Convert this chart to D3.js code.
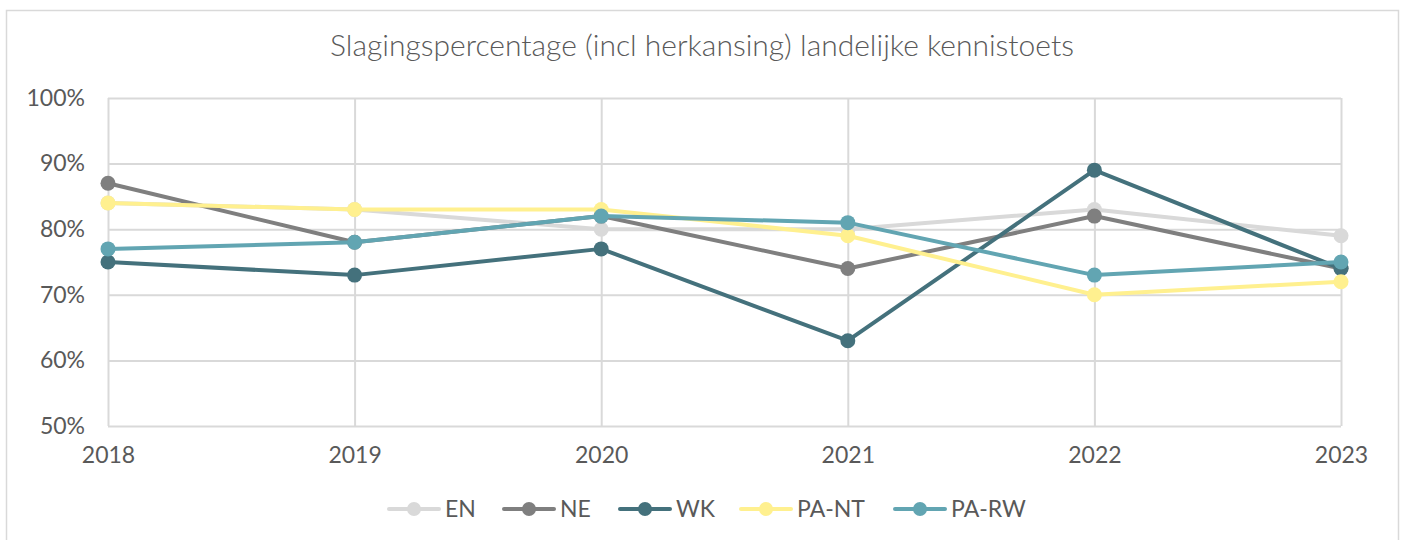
<!DOCTYPE html>
<html>
<head>
<meta charset="utf-8">
<script src="https://cdn.jsdelivr.net/npm/d3@7"></script>
<style>
  body { margin: 0; background: #fff; }
  text { font-family: Lato, "Open Sans", sans-serif; fill: #595959; }
</style>
</head>
<body>
<div id="chart-area"></div>
<script>
// data
var years = ["2018", "2019", "2020", "2021", "2022", "2023"];
var seriesNames = ["EN", "NE", "WK", "PA-NT", "PA-RW"];
var EN    = [84, 83, 80, 80, 83, 79];
var NE    = [87, 78, 82, 74, 82, 74];
var WK    = [75, 73, 77, 63, 89, 74];
var PA_NT = [84, 83, 83, 79, 70, 72];
var PA_RW = [77, 78, 82, 81, 73, 75];
var yTicks = [50, 60, 70, 80, 90, 100];

var colors = ["#d9d9d9", "#7f7f7f", "#44717c", "#fff08f", "#62a5b2"];
var values = [EN, NE, WK, PA_NT, PA_RW];

var width = 1402;
var height = 540;
var plot = {left: 108, right: 1341, top: 98, bottom: 426};

var svg = d3.select("#chart-area")
    .append("svg")
    .attr("width", width)
    .attr("height", height);

// outer border of chart
svg.append("rect")
    .attr("x", 6.5)
    .attr("y", 10.5)
    .attr("width", 1392)
    .attr("height", 540)
    .attr("fill", "none")
    .attr("stroke", "#d9d9d9")
    .attr("stroke-width", 1.5);

svg.append("text")
    .attr("x", 702)
    .attr("y", 56)
    .attr("text-anchor", "middle")
    .attr("font-size", "30px")
    .attr("font-weight", 300)
    .text("Slagingspercentage (incl herkansing) landelijke kennistoets");

var x = d3.scalePoint()
    .domain(years)
    .range([plot.left, plot.right]);

var y = d3.scaleLinear()
    .domain([50, 100])
    .range([plot.bottom, plot.top]);

// horizontal gridlines
svg.append("g")
    .attr("transform", "translate(" + plot.left + ",0)")
    .call(d3.axisLeft(y).tickValues(yTicks).tickSize(-(plot.right - plot.left)).tickFormat(""))
    .call(g => g.select(".domain").remove())
    .selectAll("line")
    .attr("stroke", "#d9d9d9")
    .attr("stroke-width", 2);

// vertical gridlines
svg.append("g")
    .attr("transform", "translate(0," + plot.bottom + ")")
    .call(d3.axisBottom(x).tickSize(-(plot.bottom - plot.top)).tickFormat(""))
    .call(g => g.select(".domain").remove())
    .selectAll("line")
    .attr("stroke", "#d9d9d9")
    .attr("stroke-width", 2);

// y tick labels
svg.append("g")
    .attr("transform", "translate(" + plot.left + ",0)")
    .call(d3.axisLeft(y).tickValues(yTicks).tickSize(0).tickPadding(23).tickFormat(d => d + "%"))
    .call(g => g.select(".domain").remove())
    .selectAll("text")
    .attr("font-size", "23px")
    .attr("fill", "#595959");

// x tick labels
svg.append("g")
    .attr("transform", "translate(0," + plot.bottom + ")")
    .call(d3.axisBottom(x).tickSize(0).tickPadding(21))
    .call(g => g.select(".domain").remove())
    .selectAll("text")
    .attr("font-size", "23px")
    .attr("fill", "#595959");

var line = d3.line()
    .x((d, i) => x(years[i]))
    .y(d => y(d));

values.forEach((vals, s) => {
    var g = svg.append("g");
    g.append("path")
        .datum(vals)
        .attr("d", line)
        .attr("fill", "none")
        .attr("stroke", colors[s])
        .attr("stroke-width", 4)
        .attr("stroke-linejoin", "round");
    g.selectAll("circle")
        .data(vals)
        .enter()
        .append("circle")
        .attr("cx", (d, i) => x(years[i]))
        .attr("cy", d => y(d))
        .attr("r", 7.5)
        .attr("fill", colors[s]);
});

// legend
var legendX = [387, 502, 618, 739, 893];
var legend = svg.append("g");
seriesNames.forEach((name, s) => {
    var lg = legend.append("g")
        .attr("transform", "translate(" + legendX[s] + ",509)");
    lg.append("line")
        .attr("x1", 2).attr("x2", 52)
        .attr("stroke", colors[s])
        .attr("stroke-width", 4)
        .attr("stroke-linecap", "round");
    lg.append("circle")
        .attr("cx", 27)
        .attr("r", 7)
        .attr("fill", colors[s]);
    lg.append("text")
        .attr("x", 58)
        .attr("y", 8)
        .attr("font-size", "23px")
        .text(name);
});
</script>
</body>
</html>
